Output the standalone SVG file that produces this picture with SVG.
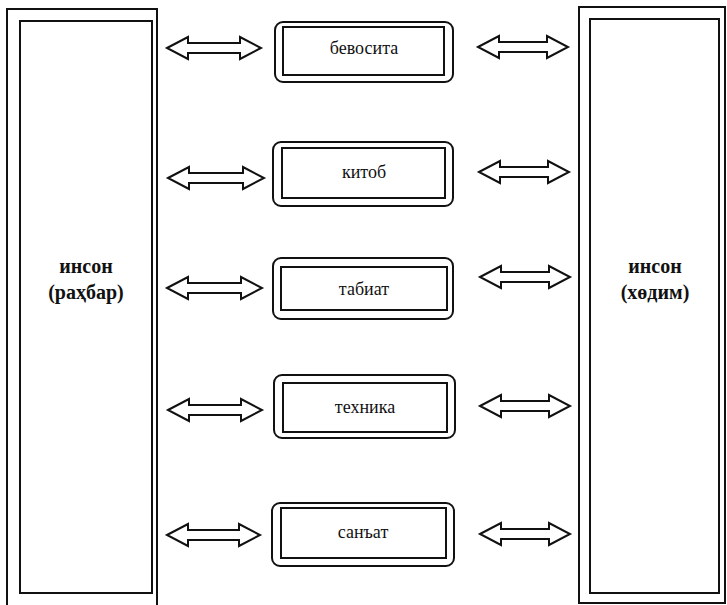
<svg xmlns="http://www.w3.org/2000/svg" width="727" height="605" viewBox="0 0 727 605">
<style>
.ln{fill:none;stroke:#111;stroke-width:2}
.bx{fill:#fff;stroke:#111;stroke-width:2}
.ar{fill:#fff;stroke:#111;stroke-width:2;stroke-linejoin:miter}
.lbl{font-family:'Liberation Serif',serif;font-size:18px;fill:#111;text-anchor:middle}
.big{font-family:'Liberation Serif',serif;font-size:20px;font-weight:bold;fill:#111;text-anchor:middle}
</style>
<rect width="727" height="605" fill="#fff"/>
<g id="left">
<rect class="ln" x="7" y="9" width="150" height="598"/>
<rect class="ln" x="20" y="21" width="132" height="572"/>
<text class="big" x="86" y="273">инсон</text>
<text class="big" x="86" y="299">(раҳбар)</text>
</g>
<g id="right">
<rect class="ln" x="579" y="7" width="146" height="596"/>
<rect class="ln" x="590" y="19" width="129" height="574"/>
<text class="big" x="655" y="273">инсон</text>
<text class="big" x="655" y="299">(хөдим)</text>
</g>
<g id="n1">
<rect class="bx" x="275" y="22" width="178" height="60" rx="8"/>
<rect class="ln" x="283" y="27" width="161" height="48"/>
<text class="lbl" x="364" y="54">бевосита</text>
</g>
<g id="n2">
<rect class="bx" x="273" y="142" width="180" height="64" rx="8"/>
<rect class="ln" x="282" y="148" width="163" height="50"/>
<text class="lbl" x="364" y="178">китоб</text>
</g>
<g id="n3">
<rect class="bx" x="273" y="258" width="180" height="61" rx="8"/>
<rect class="ln" x="281" y="267" width="166" height="43"/>
<text class="lbl" x="364" y="295">табиат</text>
</g>
<g id="n4">
<rect class="bx" x="274" y="375" width="181" height="63" rx="8"/>
<rect class="ln" x="283" y="383" width="164" height="49"/>
<text class="lbl" x="365" y="413">техника</text>
</g>
<g id="n5">
<rect class="bx" x="272" y="503" width="182" height="63" rx="8"/>
<rect class="ln" x="281" y="508" width="165" height="50"/>
<text class="lbl" x="363" y="538">санъат</text>
</g>
<g id="connectors">
<path class="ar" d="M167,48 L188,37 L188,43 L240,43 L240,37 L261,48 L240,59 L240,53 L188,53 L188,59 Z"/>
<path class="ar" d="M168,178 L189,167 L189,173 L243,173 L243,167 L264,178 L243,189 L243,183 L189,183 L189,189 Z"/>
<path class="ar" d="M167,288 L188,277 L188,283 L241,283 L241,277 L262,288 L241,299 L241,293 L188,293 L188,299 Z"/>
<path class="ar" d="M168,410 L189,399 L189,405 L241,405 L241,399 L262,410 L241,421 L241,415 L189,415 L189,421 Z"/>
<path class="ar" d="M167,535 L188,524 L188,530 L239,530 L239,524 L260,535 L239,546 L239,540 L188,540 L188,546 Z"/>
<path class="ar" d="M478,47 L499,36 L499,42 L547,42 L547,36 L568,47 L547,58 L547,52 L499,52 L499,58 Z"/>
<path class="ar" d="M479,172 L500,161 L500,167 L548,167 L548,161 L569,172 L548,183 L548,177 L500,177 L500,183 Z"/>
<path class="ar" d="M480,277 L501,266 L501,272 L549,272 L549,266 L570,277 L549,288 L549,282 L501,282 L501,288 Z"/>
<path class="ar" d="M480,406 L501,395 L501,401 L549,401 L549,395 L570,406 L549,417 L549,411 L501,411 L501,417 Z"/>
<path class="ar" d="M480,534 L501,523 L501,529 L549,529 L549,523 L570,534 L549,545 L549,539 L501,539 L501,545 Z"/>
</g>
</svg>
